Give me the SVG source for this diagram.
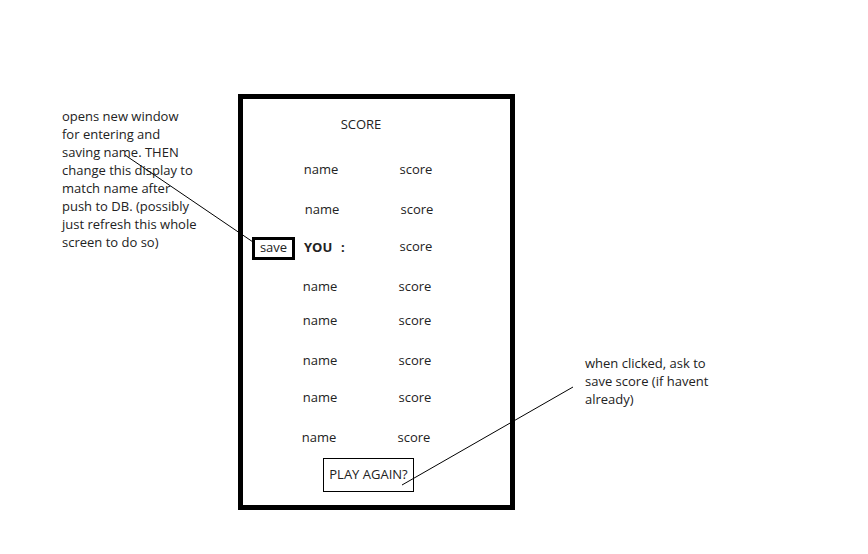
<svg xmlns="http://www.w3.org/2000/svg" width="868" height="554" viewBox="0 0 868 554">
<style>
text{font-family:"Open Sans","Liberation Sans",sans-serif;font-size:13px;fill:#222}
.c{text-anchor:middle}
.b{font-weight:bold}
.box{fill:none;stroke:#000}
.ln{stroke:#000;stroke-width:1;fill:none}
</style>
<rect width="868" height="554" fill="#fff"/>
<g id="screen">
<rect class="box" x="240.5" y="96.5" width="272" height="411" stroke-width="5"/>
<text class="c" x="361" y="129">SCORE</text>
</g>
<g id="row1"><text class="c" x="321" y="174">name</text><text class="c" x="416" y="174">score</text></g>
<g id="row2"><text class="c" x="322" y="214">name</text><text class="c" x="417" y="214">score</text></g>
<g id="row-you"><text class="b" x="304" y="252">YOU</text><text class="b" x="341" y="252">:</text><text class="c" x="416" y="251">score</text></g>
<g id="row4"><text class="c" x="320" y="291">name</text><text class="c" x="415" y="291">score</text></g>
<g id="row5"><text class="c" x="320" y="325">name</text><text class="c" x="415" y="325">score</text></g>
<g id="row6"><text class="c" x="320" y="365">name</text><text class="c" x="415" y="365">score</text></g>
<g id="row7"><text class="c" x="320" y="402">name</text><text class="c" x="415" y="402">score</text></g>
<g id="row8"><text class="c" x="319" y="442">name</text><text class="c" x="414" y="442">score</text></g>
<g id="save"><rect class="box" x="253.5" y="238.5" width="40" height="20" stroke-width="3"/><text class="c" x="273.5" y="252">save</text></g>
<g id="play-again"><rect class="box" x="323.5" y="458.5" width="90" height="33" stroke-width="1"/><text class="c" x="368.5" y="479">PLAY AGAIN?</text></g>
<g id="note-save">
<text x="62" y="121">opens new window</text>
<text x="62" y="139">for entering and</text>
<text x="62" y="157">saving name. THEN</text>
<text x="62" y="175">change this display to</text>
<text x="62" y="193">match name after</text>
<text x="62" y="211">push to DB. (possibly</text>
<text x="62" y="229">just refresh this whole</text>
<text x="62" y="247">screen to do so)</text>
</g>
<g id="note-play">
<text x="585" y="368">when clicked, ask to</text>
<text x="585" y="386">save score (if havent</text>
<text x="585" y="404">already)</text>
</g>
<g id="connectors">
<line class="ln" x1="125" y1="155" x2="253" y2="242"/>
<line class="ln" x1="573" y1="387" x2="402" y2="485"/>
</g>
</svg>
